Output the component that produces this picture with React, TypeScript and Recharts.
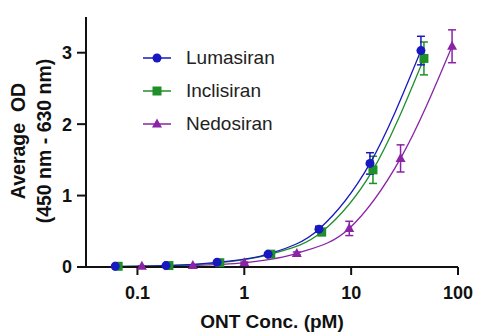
import { ComposedChart, ErrorBar, Label, Line, XAxis, YAxis } from 'recharts';

const FONT = 'Arial, "Liberation Sans", sans-serif';

const SERIES_NAMES = ['Lumasiran', 'Inclisiran', 'Nedosiran'];
const SERIES_COLORS = ['#1818c0', '#1f8f2a', '#8a23a6'];
const SERIES_SHAPES = ['circle', 'square', 'triangle'];

// ONT concentration (pM), mean OD and SD
const LUMASIRAN_CONC = [0.062, 0.185, 0.556, 1.67, 5, 15, 45];
const LUMASIRAN_OD = [0.01, 0.02, 0.065, 0.18, 0.53, 1.45, 3.03];
const LUMASIRAN_SD = [0.005, 0.005, 0.01, 0.02, 0.04, 0.15, 0.2];

const INCLISIRAN_CONC = [0.066, 0.197, 0.59, 1.77, 5.3, 16, 48];
const INCLISIRAN_OD = [0.01, 0.02, 0.06, 0.18, 0.49, 1.36, 2.92];
const INCLISIRAN_SD = [0.005, 0.005, 0.01, 0.02, 0.05, 0.19, 0.23];

const NEDOSIRAN_CONC = [0.11, 0.33, 1.0, 3.1, 9.6, 29, 88];
const NEDOSIRAN_OD = [0.01, 0.02, 0.06, 0.19, 0.54, 1.52, 3.09];
const NEDOSIRAN_SD = [0.005, 0.005, 0.01, 0.02, 0.1, 0.19, 0.23];

const X_TICKS = [0.1, 1, 10, 100];
const Y_TICKS = [0, 1, 2, 3];

const toRows = (conc: number[], od: number[], sd: number[]) =>
  conc.map((x, i) => ({ x, y: od[i], err: sd[i] }));

const SERIES_DATA = [
  toRows(LUMASIRAN_CONC, LUMASIRAN_OD, LUMASIRAN_SD),
  toRows(INCLISIRAN_CONC, INCLISIRAN_OD, INCLISIRAN_SD),
  toRows(NEDOSIRAN_CONC, NEDOSIRAN_OD, NEDOSIRAN_SD),
];

function Marker({ cx, cy, shape, color }: { cx: number; cy: number; shape: string; color: string }) {
  if (shape === 'circle') return <circle cx={cx} cy={cy} r={4.5} fill={color} />;
  if (shape === 'square') return <rect x={cx - 4.5} y={cy - 4.5} width={9} height={9} fill={color} />;
  return <polygon points={`${cx},${cy - 5.5} ${cx + 5},${cy + 3.5} ${cx - 5},${cy + 3.5}`} fill={color} />;
}

function YTitle() {
  const style = { fontFamily: FONT, fontSize: 19.5, fontWeight: 700, fill: '#111' };
  return (
    <g>
      <text transform="translate(25,141) rotate(-90)" textAnchor="middle" style={style}>
        Average&#160; OD
      </text>
      <text transform="translate(51,141) rotate(-90)" textAnchor="middle" style={style}>
        (450 nm - 630 nm)
      </text>
    </g>
  );
}

function LegendBox() {
  return (
    <div style={{ position: 'absolute', left: 140, top: 41, fontFamily: FONT, fontSize: 19, color: '#222' }}>
      {SERIES_NAMES.map((name, i) => (
        <div key={name} style={{ display: 'flex', alignItems: 'center', height: 33 }}>
          <svg width={32} height={14} style={{ marginLeft: 2 }}>
            <line x1={1} y1={7} x2={29} y2={7} stroke={SERIES_COLORS[i]} strokeWidth={1.5} />
            <Marker cx={15} cy={7} shape={SERIES_SHAPES[i]} color={SERIES_COLORS[i]} />
          </svg>
          <span style={{ marginLeft: 12 }}>{name}</span>
        </div>
      ))}
    </div>
  );
}

// draw Nedosiran first so Lumasiran sits on top
const DRAW_ORDER = [2, 1, 0];

export default function App() {
  return (
    <div style={{ position: 'relative', width: 477, height: 333 }}>
      <style>{'body{margin:0}'}</style>
      <ComposedChart width={477} height={333} margin={{ top: 17, right: 19, bottom: 0, left: 0 }}>
        <XAxis
          dataKey="x"
          type="number"
          scale="log"
          domain={[0.033, 100]}
          allowDataOverflow
          ticks={X_TICKS}
          tickFormatter={(v) => String(v)}
          height={66}
          tickSize={8}
          tickMargin={11}
          axisLine={{ stroke: '#111', strokeWidth: 2 }}
          tickLine={{ stroke: '#111', strokeWidth: 2 }}
          tick={{ fontFamily: FONT, fontSize: 18, fontWeight: 700, fill: '#111' }}
        >
          <Label
            value="ONT Conc. (pM)"
            position="insideBottom"
            offset={5}
            style={{ fontFamily: FONT, fontSize: 19, fontWeight: 700, fill: '#111' }}
          />
        </XAxis>
        <YAxis
          dataKey="y"
          type="number"
          domain={[0, 3.5]}
          ticks={Y_TICKS}
          width={86}
          tickSize={9}
          tickMargin={5}
          axisLine={{ stroke: '#111', strokeWidth: 2 }}
          tickLine={{ stroke: '#111', strokeWidth: 2 }}
          tick={{ fontFamily: FONT, fontSize: 18, fontWeight: 700, fill: '#111' }}
          label={{ content: () => <YTitle /> }}
        />
        {DRAW_ORDER.map((i) => (
          <Line
            key={SERIES_NAMES[i]}
            name={SERIES_NAMES[i]}
            data={SERIES_DATA[i]}
            dataKey="y"
            type="monotone"
            stroke={SERIES_COLORS[i]}
            strokeWidth={1.3}
            isAnimationActive={false}
            dot={(p: any) => (
              <Marker key={`${SERIES_NAMES[i]}-${p.index}`} cx={p.cx} cy={p.cy} shape={SERIES_SHAPES[i]} color={SERIES_COLORS[i]} />
            )}
            activeDot={false}
          >
            <ErrorBar dataKey="err" direction="y" width={4} stroke={SERIES_COLORS[i]} strokeWidth={1.5} />
          </Line>
        ))}
      </ComposedChart>
      <LegendBox />
    </div>
  );
}
